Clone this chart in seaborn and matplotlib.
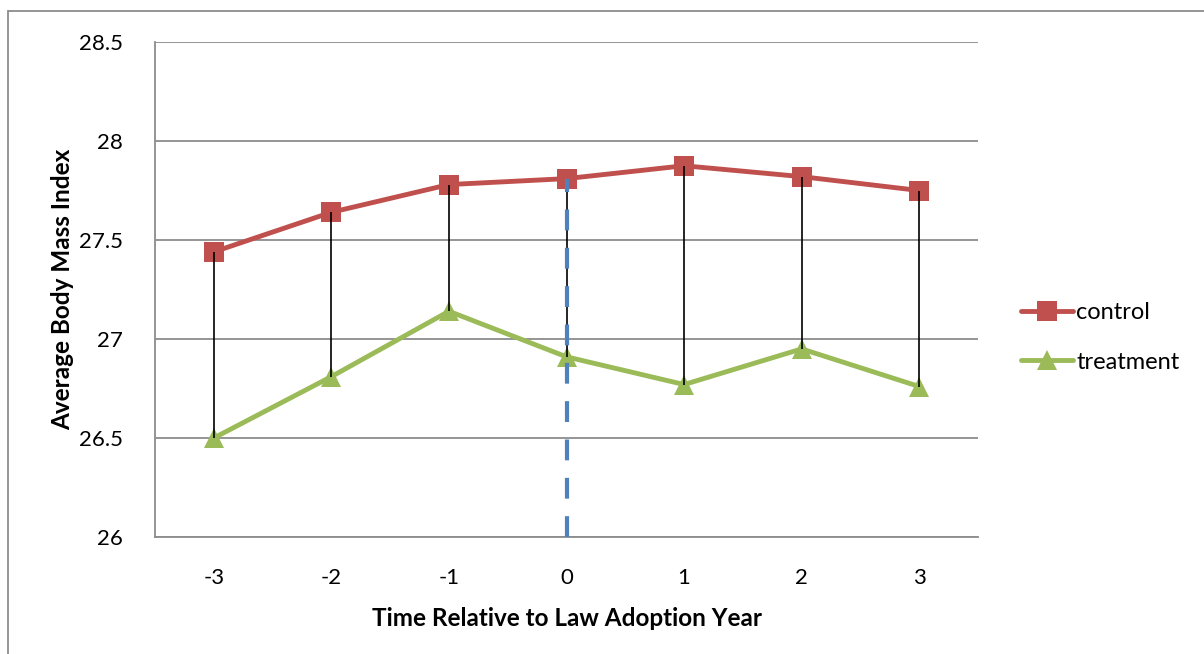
import matplotlib
matplotlib.use("Agg")
import matplotlib.pyplot as plt
from matplotlib.patches import Rectangle
import seaborn as sns
import pandas as pd

years = [-3, -2, -1, 0, 1, 2, 3]
control = [27.44, 27.64, 27.78, 27.81, 27.875, 27.82, 27.75]
treatment = [26.50, 26.81, 27.14, 26.91, 26.77, 26.95, 26.76]
y_ticks = [26, 26.5, 27, 27.5, 28, 28.5]

sns.set_style("white")
plt.rcParams["font.family"] = ["Lato", "DejaVu Sans"]
plt.rcParams["text.color"] = "black"
plt.rcParams["xtick.color"] = "black"
plt.rcParams["ytick.color"] = "black"
plt.rcParams["axes.labelcolor"] = "black"

W, H = 1204, 654
fig = plt.figure(figsize=(W / 100, H / 100), dpi=100)
ax = fig.add_axes([155 / W, 1 - 537 / H, (978 - 155) / W, (537 - 42) / H])

# outer chart frame
fig.patches.append(Rectangle((8 / W, -0.1), 1.2, 1 - 11 / H + 0.1, transform=fig.transFigure,
                             fill=False, edgecolor="#8c8c8c", linewidth=1.3, zorder=0))

df = pd.DataFrame({"year": years * 2,
                   "bmi": control + treatment,
                   "group": ["control"] * len(years) + ["treatment"] * len(years)})

red, green, blue = "#C0504D", "#9BBB59", "#4F81BD"
sns.lineplot(data=df, x="year", y="bmi", hue="group", style="group",
             palette={"control": red, "treatment": green},
             markers={"control": "s", "treatment": "^"}, dashes=False,
             linewidth=3.5, markersize=14, markeredgewidth=0, ax=ax, zorder=3)

# gap between groups at each year
ax.vlines(years, treatment, control, colors="black", linewidth=1.2, zorder=4)

# law adoption year
ax.vlines([0], [26], [control[years.index(0)]], colors=blue, linewidth=3,
          linestyles=(0, (5, 4.2)), zorder=5)

ax.set_xlim(-3.5, 3.5)
ax.set_ylim(26, 28.5)
ax.set_xticks(years)
ax.set_xticklabels([str(v) for v in years])
ax.set_yticks(y_ticks)
ax.set_yticklabels(["26", "26.5", "27", "27.5", "28", "28.5"])
ax.grid(axis="y", color="#8c8c8c", linewidth=1.3)
ax.set_axisbelow(True)
for s in ["top", "right"]:
    ax.spines[s].set_visible(False)
for s in ["left", "bottom"]:
    ax.spines[s].set_color("#8c8c8c")
    ax.spines[s].set_linewidth(1.3)
ax.tick_params(axis="y", length=7, color="#8c8c8c", width=1.3, pad=16, labelsize=16)
ax.tick_params(axis="x", length=0, pad=22, labelsize=16)

ax.set_xlabel("Time Relative to Law Adoption Year", fontsize=17.5, fontweight="bold", labelpad=14)
ax.set_ylabel("Average Body Mass Index", fontsize=17.5, fontweight="bold", labelpad=3.5)

leg = ax.legend(loc="center left", bbox_to_anchor=(1.026, 0.403), frameon=False, fontsize=17,
                handlelength=2.2, handletextpad=0.15, labelspacing=1.2)
for h in leg.legend_handles:
    h.set_markersize(14)

fig.savefig("out.png", dpi=100, facecolor="white")
